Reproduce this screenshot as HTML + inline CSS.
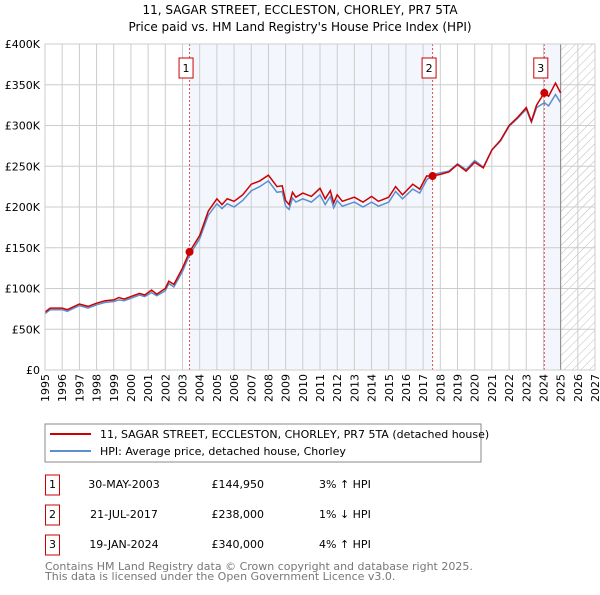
<!DOCTYPE html>
<html><head><meta charset="utf-8"><style>
body{margin:0;background:#fff;font-family:"Liberation Sans","DejaVu Sans",sans-serif;}
svg text{font-family:"DejaVu Sans","Liberation Sans",sans-serif;}
</style></head><body>
<svg id="c" width="600" height="590" xmlns="http://www.w3.org/2000/svg">
<defs><pattern id="hatch" width="6" height="6" patternUnits="userSpaceOnUse" patternTransform="rotate(45)"><line x1="0" y1="0" x2="0" y2="6" stroke="#bbb" stroke-width="1"/></pattern></defs>
<text x="300" y="14" text-anchor="middle" font-size="12">11, SAGAR STREET, ECCLESTON, CHORLEY, PR7 5TA</text>
<text x="300" y="31" text-anchor="middle" font-size="12">Price paid vs. HM Land Registry's House Price Index (HPI)</text>
<g id="plot"></g>
<rect x="45" y="424" width="436" height="38" fill="#fff" stroke="#888"/>
<line x1="50" y1="434" x2="91" y2="434" stroke="#cc0000" stroke-width="2"/>
<text x="100" y="438" font-size="11">11, SAGAR STREET, ECCLESTON, CHORLEY, PR7 5TA (detached house)</text>
<line x1="50" y1="451" x2="91" y2="451" stroke="#5b8fd0" stroke-width="2"/>
<text x="100" y="455" font-size="11">HPI: Average price, detached house, Chorley</text>
<g id="tbl" font-size="11"></g>
<text x="45" y="570" font-size="11" fill="#777">Contains HM Land Registry data © Crown copyright and database right 2025.</text>
<text x="45" y="580" font-size="11" fill="#777">This data is licensed under the Open Government Licence v3.0.</text>
</svg>
<script>
const yearTicks=[1995,1996,1997,1998,1999,2000,2001,2002,2003,2004,2005,2006,2007,2008,2009,2010,2011,2012,2013,2014,2015,2016,2017,2018,2019,2020,2021,2022,2023,2024,2025,2026,2027];
const valueTicks=[0,50,100,150,200,250,300,350,400];
const valueLabels=["£0","£50K","£100K","£150K","£200K","£250K","£300K","£350K","£400K"];
const dates=[1995.0,1995.3,1996,1996.3,1997,1997.5,1998,1998.5,1999,1999.3,1999.6,2000,2000.5,2000.8,2001.2,2001.5,2002,2002.2,2002.5,2003,2003.41,2004,2004.5,2005,2005.3,2005.6,2006,2006.5,2007,2007.5,2008,2008.5,2008.8,2009,2009.2,2009.4,2009.6,2010,2010.5,2011,2011.3,2011.6,2011.8,2012,2012.3,2013,2013.5,2014,2014.4,2015,2015.4,2015.8,2016.4,2016.8,2017.2,2017.55,2018,2018.5,2019,2019.5,2020,2020.5,2021,2021.5,2022,2022.5,2023,2023.3,2023.6,2024.05,2024.3,2024.7,2025];
const priceSeries=[71,76,76,74,81,78,82,85,86,89,87,90,94,92,98,93,100,109,105,125,144.95,165,195,210,203,210,207,215,228,232,239,225,226,208,203,218,212,217,213,223,210,220,205,215,207,212,206,213,207,212,225,215,228,222,238,238,240,243,252,244,255,248,270,282,300,310,322,305,325,340,336,352,340];
const hpiSeries=[69,74,74,72,79,76,80,83,84,86,85,88,92,90,95,91,97,106,102,121,141,161,190,204,198,204,200,208,220,225,232,218,219,201,197,211,206,210,206,215,203,213,199,208,201,206,200,206,201,206,219,210,222,217,233,240,242,244,253,246,257,249,270,281,299,309,320,304,322,328,324,338,328];
const sales=[{n:"1",d:2003.41,v:144.95,date:"30-MAY-2003",p:"£144,950",h:"3% ↑ HPI"},{n:"2",d:2017.55,v:238,date:"21-JUL-2017",p:"£238,000",h:"1% ↓ HPI"},{n:"3",d:2024.05,v:340,date:"19-JAN-2024",p:"£340,000",h:"4% ↑ HPI"}];
const X0=45,X1=595,Y0=370,Y1=44;
const xs=d=>X0+(d-1995)/(2027-1995)*(X1-X0);
const ys=v=>Y0-v/400*(Y0-Y1);
const NS="http://www.w3.org/2000/svg";
const g=document.getElementById('plot');
function mk(t,a,p){const e=document.createElementNS(NS,t);for(const k in a)e.setAttribute(k,a[k]);(p||g).appendChild(e);return e;}
let e;
e=mk('rect',{x:xs(sales[0].d),y:Y1,width:xs(sales[1].d)-xs(sales[0].d),height:Y0-Y1,fill:'#eef3fc',opacity:0.7});


e=mk('rect',{x:xs(sales[2].d),y:Y1,width:xs(2025)-xs(sales[2].d),height:Y0-Y1,fill:'#eef3fc',opacity:0.7});


e=mk('rect',{x:xs(2025),y:Y1,width:xs(2027)-xs(2025),height:Y0-Y1,fill:'url(#hatch)'});


yearTicks.forEach(y=>{
 e=mk('line',{x1:xs(y),x2:xs(y),y1:Y1,y2:Y0,stroke:'#ccc'});
 
 
 e=mk('text',{transform:`translate(${xs(y)+4},${Y0+4}) rotate(-90)`,'text-anchor':'end','font-size':11});
 e.textContent=y;
 
 
});
valueTicks.forEach((v,i)=>{
 e=mk('line',{x1:X0,x2:X1,y1:ys(v),y2:ys(v),stroke:'#ccc'});
 
 
 e=mk('text',{x:40,y:ys(v)+4,'text-anchor':'end','font-size':11});
 e.textContent=valueLabels[i];
 
 
});
e=mk('line',{x1:xs(2025),x2:xs(2025),y1:Y1,y2:Y0,stroke:'#888'});


sales.forEach(s=>{
 e=mk('line',{x1:xs(s.d),x2:xs(s.d),y1:Y1,y2:Y0,stroke:'#e05050','stroke-dasharray':'2,2'});
 
 
});
const pts=arr=>arr.map((v,i)=>xs(dates[i]).toFixed(1)+','+ys(v).toFixed(1)).join(' ');
e=mk('polyline',{points:pts(hpiSeries),fill:'none',stroke:'#5b8fd0','stroke-width':1.5});


e=mk('polyline',{points:pts(priceSeries),fill:'none',stroke:'#cc0000','stroke-width':1.5});


sales.forEach((s,i)=>{
 e=mk('circle',{cx:xs(s.d),cy:ys(s.v),r:4,fill:'#cc0000'});
 
 
 e=mk('rect',{x:xs(s.d)-10.5,y:58,width:14,height:20,fill:'#fff',stroke:'#cc0000'});
 
 
 e=mk('text',{x:xs(s.d)-3.5,y:72,'text-anchor':'middle','font-size':11});
 e.textContent=s.n;
 
 
});
e=mk('rect',{x:X0,y:Y1,width:X1-X0,height:Y0-Y1,fill:'none',stroke:'#ccc'});


const t=document.getElementById('tbl');
sales.forEach((s,i)=>{
 const cy=485+i*30;
 e=mk('rect',{x:45.5,y:cy-10,width:14,height:20,fill:'#fff',stroke:'#cc0000'},t);
 
 
 e=mk('text',{x:52.5,y:cy+3,'text-anchor':'middle'},t);e.textContent=s.n;
 
 
 e=mk('text',{x:124,y:cy+3,'text-anchor':'middle'},t);e.textContent=s.date;
 
 
 e=mk('text',{x:264,y:cy+3,'text-anchor':'end'},t);e.textContent=s.p;
 
 
 e=mk('text',{x:319,y:cy+3},t);e.textContent=s.h;
 
 
});
</script>
</body></html>
